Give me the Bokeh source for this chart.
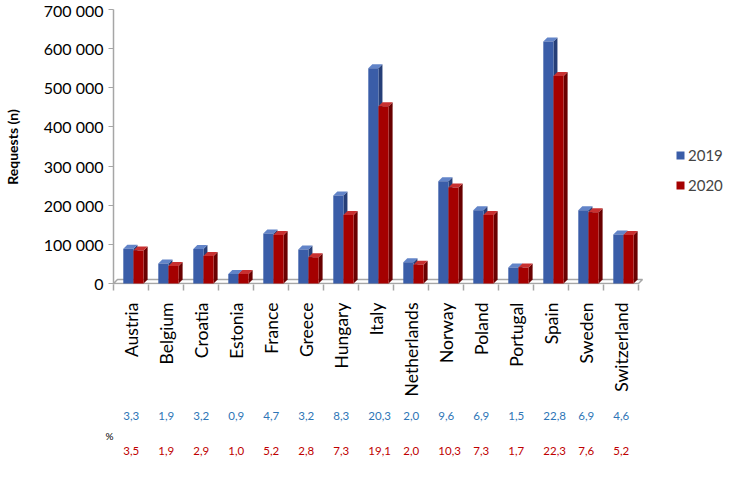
import math
from bokeh.plotting import figure
from bokeh.models import Range1d, FixedTicker, Legend, LegendItem, ColumnDataSource
from bokeh.layouts import column
from bokeh.embed import file_html
from bokeh.resources import INLINE
from bokeh.core.properties import value

# ---------------- data ----------------
countries = ["Austria", "Belgium", "Croatia", "Estonia", "France", "Greece", "Hungary",
             "Italy", "Netherlands", "Norway", "Poland", "Portugal", "Spain", "Sweden",
             "Switzerland"]
series = ["2019", "2020"]
requests_2019 = [89000, 51000, 88000, 24000, 128000, 87000, 225000, 550000, 54000,
                 261000, 187000, 41000, 618000, 187000, 125000]
requests_2020 = [84000, 45000, 70000, 24000, 124000, 67000, 175000, 453000, 48000,
                 245000, 175000, 41000, 530000, 182000, 124000]
pct_2019 = [3.3, 1.9, 3.2, 0.9, 4.7, 3.2, 8.3, 20.3, 2.0, 9.6, 6.9, 1.5, 22.8, 6.9, 4.6]
pct_2020 = [3.5, 1.9, 2.9, 1.0, 5.2, 2.8, 7.3, 19.1, 2.0, 10.3, 7.3, 1.7, 22.3, 7.6, 5.2]
y_ticks = [0, 100000, 200000, 300000, 400000, 500000, 600000, 700000]
y_tick_labels = ["0", "100 000", "200 000", "300 000", "400 000", "500 000", "600 000", "700 000"]
y_title = "Requests (n)"
pct_symbol = "%"

# ---------------- style / layout ----------------
FONT = "Lato"
PX_PER_CAT = 35
FRAME_H = 275
DEPTH_PX = 4
Y_MAX = 700000
N = len(countries)
PX_Y = Y_MAX / (FRAME_H - 1)          # data units per pixel on y
Y_START = -1 * PX_Y
DX = DEPTH_PX / PX_PER_CAT
DY = DEPTH_PX * PX_Y
BAR_W = 0.29
OFFSETS = [-0.075, 0.215]
FRONT = ["#3A5DA8", "#A50000"]
SIDE = ["#263F78", "#6A0000"]
TOP = ["#6284C8", "#C83030"]
AXIS_GRAY = "#A6A6A6"
PCT_COLORS = ["#2E75B6", "#C00000"]
PCT_SHIFT = -0.22

LEFT_B = 110
TOP_B = 9
BOTTOM_B = 110
FRAME_W = 612
X_END = FRAME_W / PX_PER_CAT

p = figure(frame_width=FRAME_W, frame_height=FRAME_H,
           x_range=Range1d(0, X_END), y_range=Range1d(Y_START, Y_MAX),
           output_backend="svg", toolbar_location=None,
           min_border_left=LEFT_B, min_border_right=0,
           min_border_top=TOP_B, min_border_bottom=BOTTOM_B)
p.outline_line_color = None
p.grid.visible = False
p.background_fill_color = "white"
p.border_fill_color = "white"

# 3-D floor
p.line(x=[0, N, N + DX, DX, 0], y=[0, 0, DY, DY, 0], line_color=AXIS_GRAY, line_width=1.5)

renderers = []
for k, vals in enumerate([requests_2019, requests_2020]):
    cx = [i + 0.5 + OFFSETS[k] for i in range(N)]
    left = [c - BAR_W / 2 for c in cx]
    right = [c + BAR_W / 2 for c in cx]
    side_xs = [[r, r + DX, r + DX, r] for r in right]
    side_ys = [[0, DY, v + DY, v] for v in vals]
    top_xs = [[l, l + DX, r + DX, r] for l, r in zip(left, right)]
    top_ys = [[v, v + DY, v + DY, v] for v in vals]
    p.patches(xs=side_xs, ys=side_ys, fill_color=SIDE[k], line_color=None)
    p.patches(xs=top_xs, ys=top_ys, fill_color=TOP[k], line_color=None)
    r = p.quad(left=left, right=right, bottom=0, top=vals, fill_color=FRONT[k], line_color=None)
    renderers.append(r)

# y axis
yax = p.yaxis[0]
yax.ticker = FixedTicker(ticks=y_ticks)
yax.major_label_overrides = {t: s for t, s in zip(y_ticks, y_tick_labels)}
yax.minor_tick_line_color = None
yax.axis_line_color = AXIS_GRAY
yax.axis_line_width = 1.5
yax.major_tick_line_color = AXIS_GRAY
yax.major_tick_out = 5
yax.major_tick_in = 0
yax.major_label_text_font = FONT
yax.major_label_text_font_size = "16px"
yax.major_label_text_color = "black"
yax.major_label_standoff = 5
yax.axis_label = y_title
yax.axis_label_text_font = FONT
yax.axis_label_text_font_style = "bold"
yax.axis_label_text_font_size = "14px"
yax.axis_label_text_color = "black"
yax.axis_label_standoff = 20

# x axis (category labels at centres, tick marks at boundaries)
xax = p.xaxis[0]
centers = [i + 0.5 for i in range(N)]
xax.ticker = FixedTicker(ticks=centers, minor_ticks=list(range(N + 1)))
xax.major_label_overrides = {c: name for c, name in zip(centers, countries)}
xax.major_label_orientation = math.pi / 2
xax.major_tick_line_color = None
xax.major_tick_out = 0
xax.major_tick_in = 0
xax.minor_tick_line_color = AXIS_GRAY
xax.minor_tick_line_width = 1.5
xax.minor_tick_out = 6
xax.minor_tick_in = 0
xax.axis_line_color = None
xax.major_label_text_font = FONT
xax.major_label_text_font_size = "17.5px"
xax.major_label_text_color = "black"
xax.major_label_standoff = 12

legend = Legend(items=[LegendItem(label=series[0], renderers=[renderers[0]]),
                       LegendItem(label=series[1], renderers=[renderers[1]])],
                location=(562, 89), orientation="vertical",
                border_line_color=None, background_fill_alpha=0,
                label_text_font=FONT, label_text_font_size="15px",
                glyph_width=10, glyph_height=10, label_height=20,
                spacing=10, padding=0, margin=0, label_standoff=3)
p.add_layout(legend, "center")

# percentage table
PCT_H = 70
p2 = figure(frame_width=FRAME_W, frame_height=PCT_H,
            x_range=Range1d(0, X_END), y_range=Range1d(0, PCT_H),
            output_backend="svg", toolbar_location=None,
            min_border_left=LEFT_B, min_border_right=0,
            min_border_top=0, min_border_bottom=0)
p2.outline_line_color = None
p2.grid.visible = False
p2.xaxis.visible = False
row_y = [54, 19]
pct_row_y = 34
ax2 = p2.yaxis[0]
ax2.ticker = FixedTicker(ticks=[pct_row_y])
ax2.major_label_overrides = {pct_row_y: pct_symbol}
ax2.axis_line_color = None
ax2.major_tick_line_color = None
ax2.minor_tick_line_color = None
ax2.major_tick_out = 0
ax2.major_tick_in = 0
ax2.major_label_standoff = 0
ax2.major_label_text_font = FONT
ax2.major_label_text_font_size = "10px"
ax2.major_label_text_color = "black"

for k, pcts in enumerate([pct_2019, pct_2020]):
    src = ColumnDataSource(dict(x=[i + 0.5 + PCT_SHIFT for i in range(N)],
                                y=[row_y[k]] * N,
                                t=[f"{v:.1f}".replace(".", ",") for v in pcts]))
    p2.text(x="x", y="y", text="t", source=src, text_font=value(FONT),
            text_font_size="11.5px", text_color=PCT_COLORS[k],
            text_align="left", text_baseline="middle")

layout = column(p, p2, spacing=0)
open("out.html", "w").write(file_html(layout, INLINE))
